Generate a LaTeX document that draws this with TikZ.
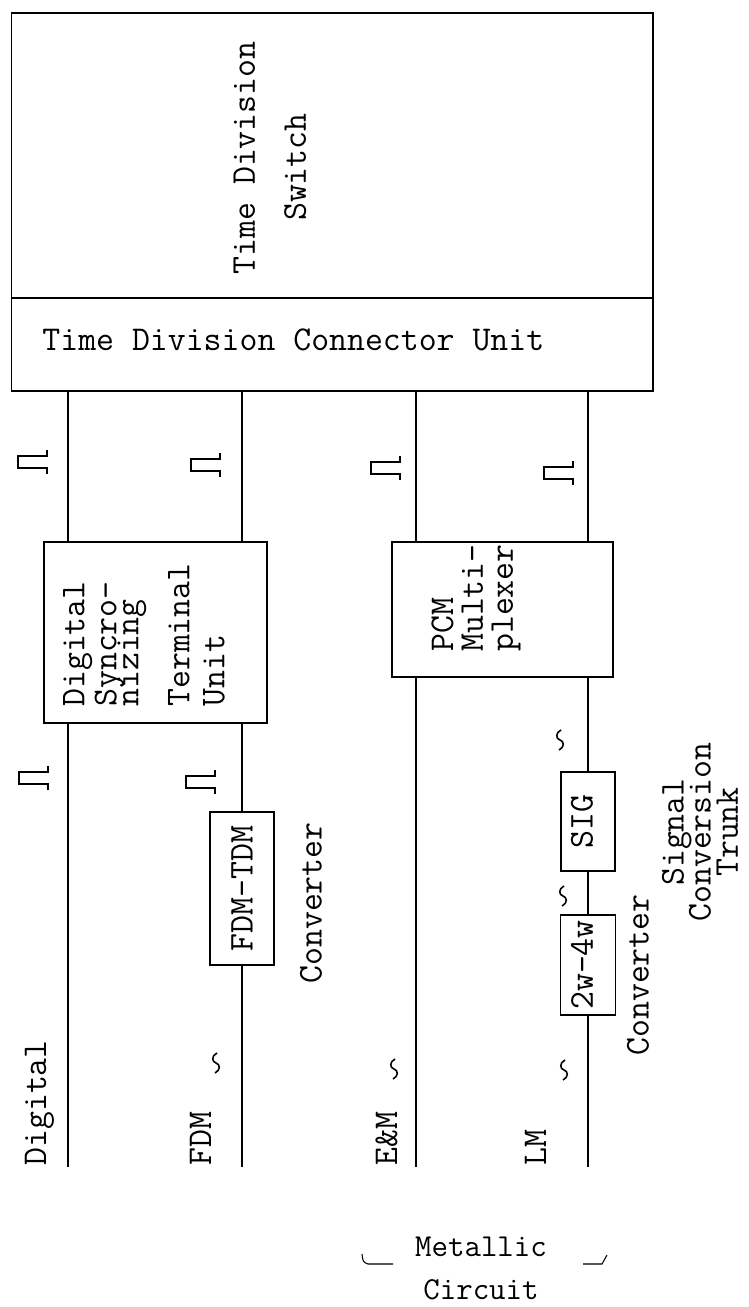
\documentclass[tikz,border=0pt]{standalone}
\usepackage{fontspec}
\usetikzlibrary{positioning}
\newcommand{\typefont}{\ttfamily\fontsize{19.8pt}{17pt}\selectfont}
\newcommand{\smalltype}{\ttfamily\fontsize{18.2pt}{17pt}\selectfont}

\begin{document}
\begin{tikzpicture}[x=0.2mm, y=-0.2mm,
  unit/.style={draw, line width=1pt, inner sep=0pt},
  wire/.style={line width=1.2pt},
  vtext/.style={rotate=90, inner sep=0pt, font=\typefont},
  htext/.style={inner sep=0pt, font=\typefont},
  pulse/.pic={\draw[line width=0.9pt] (0,-12) -- (0,-6) -- (-29,-6) -- (-29,6) -- (0,6) -- (0,12);},
  wave/.pic={\draw[line width=0.9pt] (1,-10) .. controls (-5,-7) and (-4,-1) .. (0,0)
    .. controls (4,1) and (5,7) .. (-1,10);}
]
  \useasboundingbox (0,0) rectangle (748,1307);

  % Switch and connector unit
  \node[unit, minimum width=128.3mm, minimum height=57mm] (tds) at (332.25,155.5) {};
  \node[unit, minimum width=128.3mm, minimum height=18.6mm] (tdcu) at (332.25,344.5) {};
  \node[vtext, align=left] (tdstxt) at (270,158) {Time Division\\[12pt]\hspace*{1.54em}Switch};
  \node[htext, anchor=west] (tdcutxt) at ([xshift=6.3mm, yshift=1mm]tdcu.west) {Time Division Connector Unit};

  % Terminal units
  \node[unit, minimum width=44.6mm, minimum height=36.2mm] (dstu) at (155.5,632.5) {};
  \node[vtext, align=left] (dstutxt) at (144,635)
    {Digital\\[1.2pt]Syncro-\\[-4.5pt]nizing\\[12pt]Terminal\\[2.9pt]Unit};
  \node[unit, minimum width=44.2mm, minimum height=27mm] (pcm) at (502.5,609.5) {};
  \node[vtext, align=left] (pcmtxt) at (476,598) {PCM\\Multi-\\plexer};

  \node[unit, minimum width=12.8mm, minimum height=30.6mm] (fdmtdm) at (242,888.5) {};
  \node[vtext] (fdmtdmtxt) at (fdmtdm) {FDM-TDM};
  \node[vtext] (fdmconv) at (311,903) {Converter};

  \node[unit, minimum width=10.8mm, minimum height=19.8mm] (sig) at (588,821.5) {};
  \node[vtext] (sigtxt) at ([xshift=-1.2mm]sig.center) {SIG};
  \node[unit, minimum width=11mm, minimum height=20mm] (conv) at (588,965) {};
  \node[vtext] (convtxt) at ([xshift=-1.2mm]conv.center) {2w-4w};
  \node[vtext] (sigconv) at (638,975) {Converter};
  \node[vtext, align=center] (sct) at (700,832) {Signal\\[-1.5pt]Conversion\\[-1.5pt]Trunk};

  % Trunk lines
  \coordinate (e1) at (68,1167);
  \coordinate (e2) at (242,1167);
  \coordinate (e3) at (416,1167);
  \coordinate (e4) at (588,1167);
  \foreach \l/\b in {e1/dstu, e2/dstu, e3/pcm, e4/pcm}
    \draw[wire] (\l |- tdcu.south) -- (\l |- \b.north);
  \draw[wire] (e1 |- dstu.south) -- (e1);
  \draw[wire] (e2 |- dstu.south) -- (fdmtdm.north);
  \draw[wire] (fdmtdm.south) -- (e2);
  \draw[wire] (e3 |- pcm.south) -- (e3);
  \draw[wire] (e4 |- pcm.south) -- (sig.north);
  \draw[wire] (sig.south) -- (conv.north);
  \draw[wire] (conv.south) -- (e4);

  % Line names
  \node[vtext, anchor=base west] (lbldig) at (46,1166) {Digital};
  \node[vtext, anchor=base west] (lblfdm) at (211,1166) {FDM};
  \node[vtext, anchor=base west] (lblem) at (397,1166) {E\&M};
  \node[vtext, anchor=base west] (lbllm) at (546,1166) {LM};

  % Signal forms
  \pic at (47,462) {pulse};
  \pic at (220,465) {pulse};
  \pic at (400,468) {pulse};
  \pic at (573,473) {pulse};
  \pic at (48,778) {pulse};
  \pic at (215,782) {pulse};
  \pic at (216,1063) {wave};
  \pic at (394,1069) {wave};
  \pic at (564,1070) {wave};
  \pic at (563,896) {wave};
  \pic at (560,740) {wave};

  % Metallic circuit
  \node[htext, font=\smalltype, align=center] (metal) at (481,1268) {Metallic\\[7.5pt]Circuit};
  \draw[line width=0.6pt] (362,1254) .. controls (363,1262) .. (368,1264) -- (393,1264);
  \draw[line width=0.6pt] (583,1264) -- (602,1264) -- (607,1255);
\end{tikzpicture}
\end{document}
